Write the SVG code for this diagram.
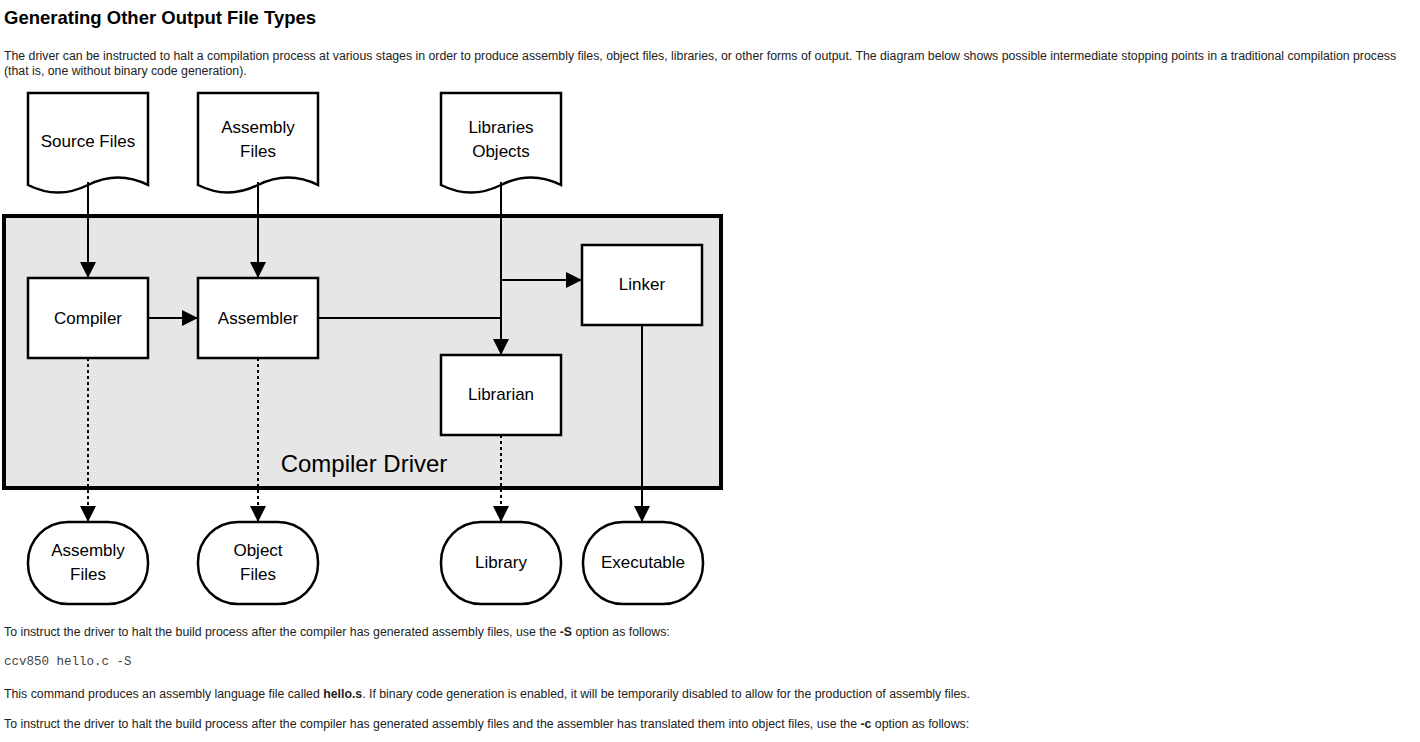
<svg xmlns="http://www.w3.org/2000/svg" width="1420" height="742" viewBox="0 0 1420 742">
<style>
text{font-family:"Liberation Sans",Arial,sans-serif;fill:#000}
text.m{font-family:"Liberation Mono","Courier New",monospace;font-size:12.5px;fill:#444}
.p{font-size:12.3px;fill:#222}
.n{font-size:17px;text-anchor:middle}
.s{fill:#fff;stroke:#000;stroke-width:2.5}
.c{fill:none;stroke:#000;stroke-width:2}
.d{fill:none;stroke:#000;stroke-width:2;stroke-dasharray:3,3}
</style>
<defs><marker id="b" viewBox="0 0 10 10" refX="10" refY="5" markerWidth="16" markerHeight="16" markerUnits="userSpaceOnUse" orient="auto"><path d="M0,0L10,5L0,10z"/></marker></defs>
<rect width="1420" height="742" fill="#fff"/>
<text x="4" y="24" font-size="18.5" font-weight="bold">Generating Other Output File Types</text>
<text class="p" x="4" y="60">The driver can be instructed to halt a compilation process at various stages in order to produce assembly files, object files, libraries, or other forms of output. The diagram below shows possible intermediate stopping points in a traditional compilation process</text>
<text class="p" x="4" y="75">(that is, one without binary code generation).</text>
<g id="driver"><rect x="4" y="216" width="717" height="272" fill="#e6e6e6" stroke="#000" stroke-width="4"/><text x="364" y="472" font-size="24" text-anchor="middle">Compiler Driver</text></g>
<g id="src"><path class="s" d="M28,93H148V185Q118,170 88,185T28,185Z"/><text class="n" x="88" y="147">Source Files</text></g>
<g id="asmin"><path class="s" d="M198,93H318V185Q288,170 258,185T198,185Z"/><text class="n" x="258" y="133">Assembly</text><text class="n" x="258" y="157">Files</text></g>
<g id="lib"><path class="s" d="M441,93H561V185Q531,170 501,185T441,185Z"/><text class="n" x="501" y="133">Libraries</text><text class="n" x="501" y="157">Objects</text></g>
<g id="compiler"><rect class="s" x="28" y="278" width="120" height="80"/><text class="n" x="88" y="324">Compiler</text></g>
<g id="assembler"><rect class="s" x="198" y="278" width="120" height="80"/><text class="n" x="258" y="324">Assembler</text></g>
<g id="librarian"><rect class="s" x="441" y="355" width="120" height="80"/><text class="n" x="501" y="400">Librarian</text></g>
<g id="linker"><rect class="s" x="582" y="245" width="120" height="80"/><text class="n" x="642" y="290">Linker</text></g>
<g id="oasm"><rect class="s" x="28" y="522" width="120" height="82" rx="40"/><text class="n" x="88" y="556">Assembly</text><text class="n" x="88" y="580">Files</text></g>
<g id="oobj"><rect class="s" x="198" y="522" width="120" height="82" rx="40"/><text class="n" x="258" y="556">Object</text><text class="n" x="258" y="580">Files</text></g>
<g id="olib"><rect class="s" x="441" y="522" width="120" height="82" rx="40"/><text class="n" x="501" y="568">Library</text></g>
<g id="oexe"><rect class="s" x="583" y="522" width="120" height="82" rx="40"/><text class="n" x="643" y="568">Executable</text></g>
<g id="connectors">
<path class="c" d="M88,182V278" marker-end="url(#b)"/>
<path class="c" d="M258,182V278" marker-end="url(#b)"/>
<path class="c" d="M501,182V355" marker-end="url(#b)"/>
<path class="c" d="M501,280H582" marker-end="url(#b)"/>
<path class="c" d="M148,318H198" marker-end="url(#b)"/>
<path class="c" d="M318,318H501"/>
<path class="c" d="M642,325V522" marker-end="url(#b)"/>
<path class="d" d="M88,358V522" marker-end="url(#b)"/>
<path class="d" d="M258,358V522" marker-end="url(#b)"/>
<path class="d" d="M501,435V522" marker-end="url(#b)"/>
</g>
<text class="p" x="4" y="636">To instruct the driver to halt the build process after the compiler has generated assembly files, use the <tspan font-weight="bold">-S</tspan> option as follows:</text>
<text class="m" x="4" y="665">ccv850 hello.c -S</text>
<text class="p" x="4" y="698">This command produces an assembly language file called <tspan font-weight="bold">hello.s</tspan>. If binary code generation is enabled, it will be temporarily disabled to allow for the production of assembly files.</text>
<text class="p" x="4" y="728">To instruct the driver to halt the build process after the compiler has generated assembly files and the assembler has translated them into object files, use the <tspan font-weight="bold">-c</tspan> option as follows:</text>
</svg>
